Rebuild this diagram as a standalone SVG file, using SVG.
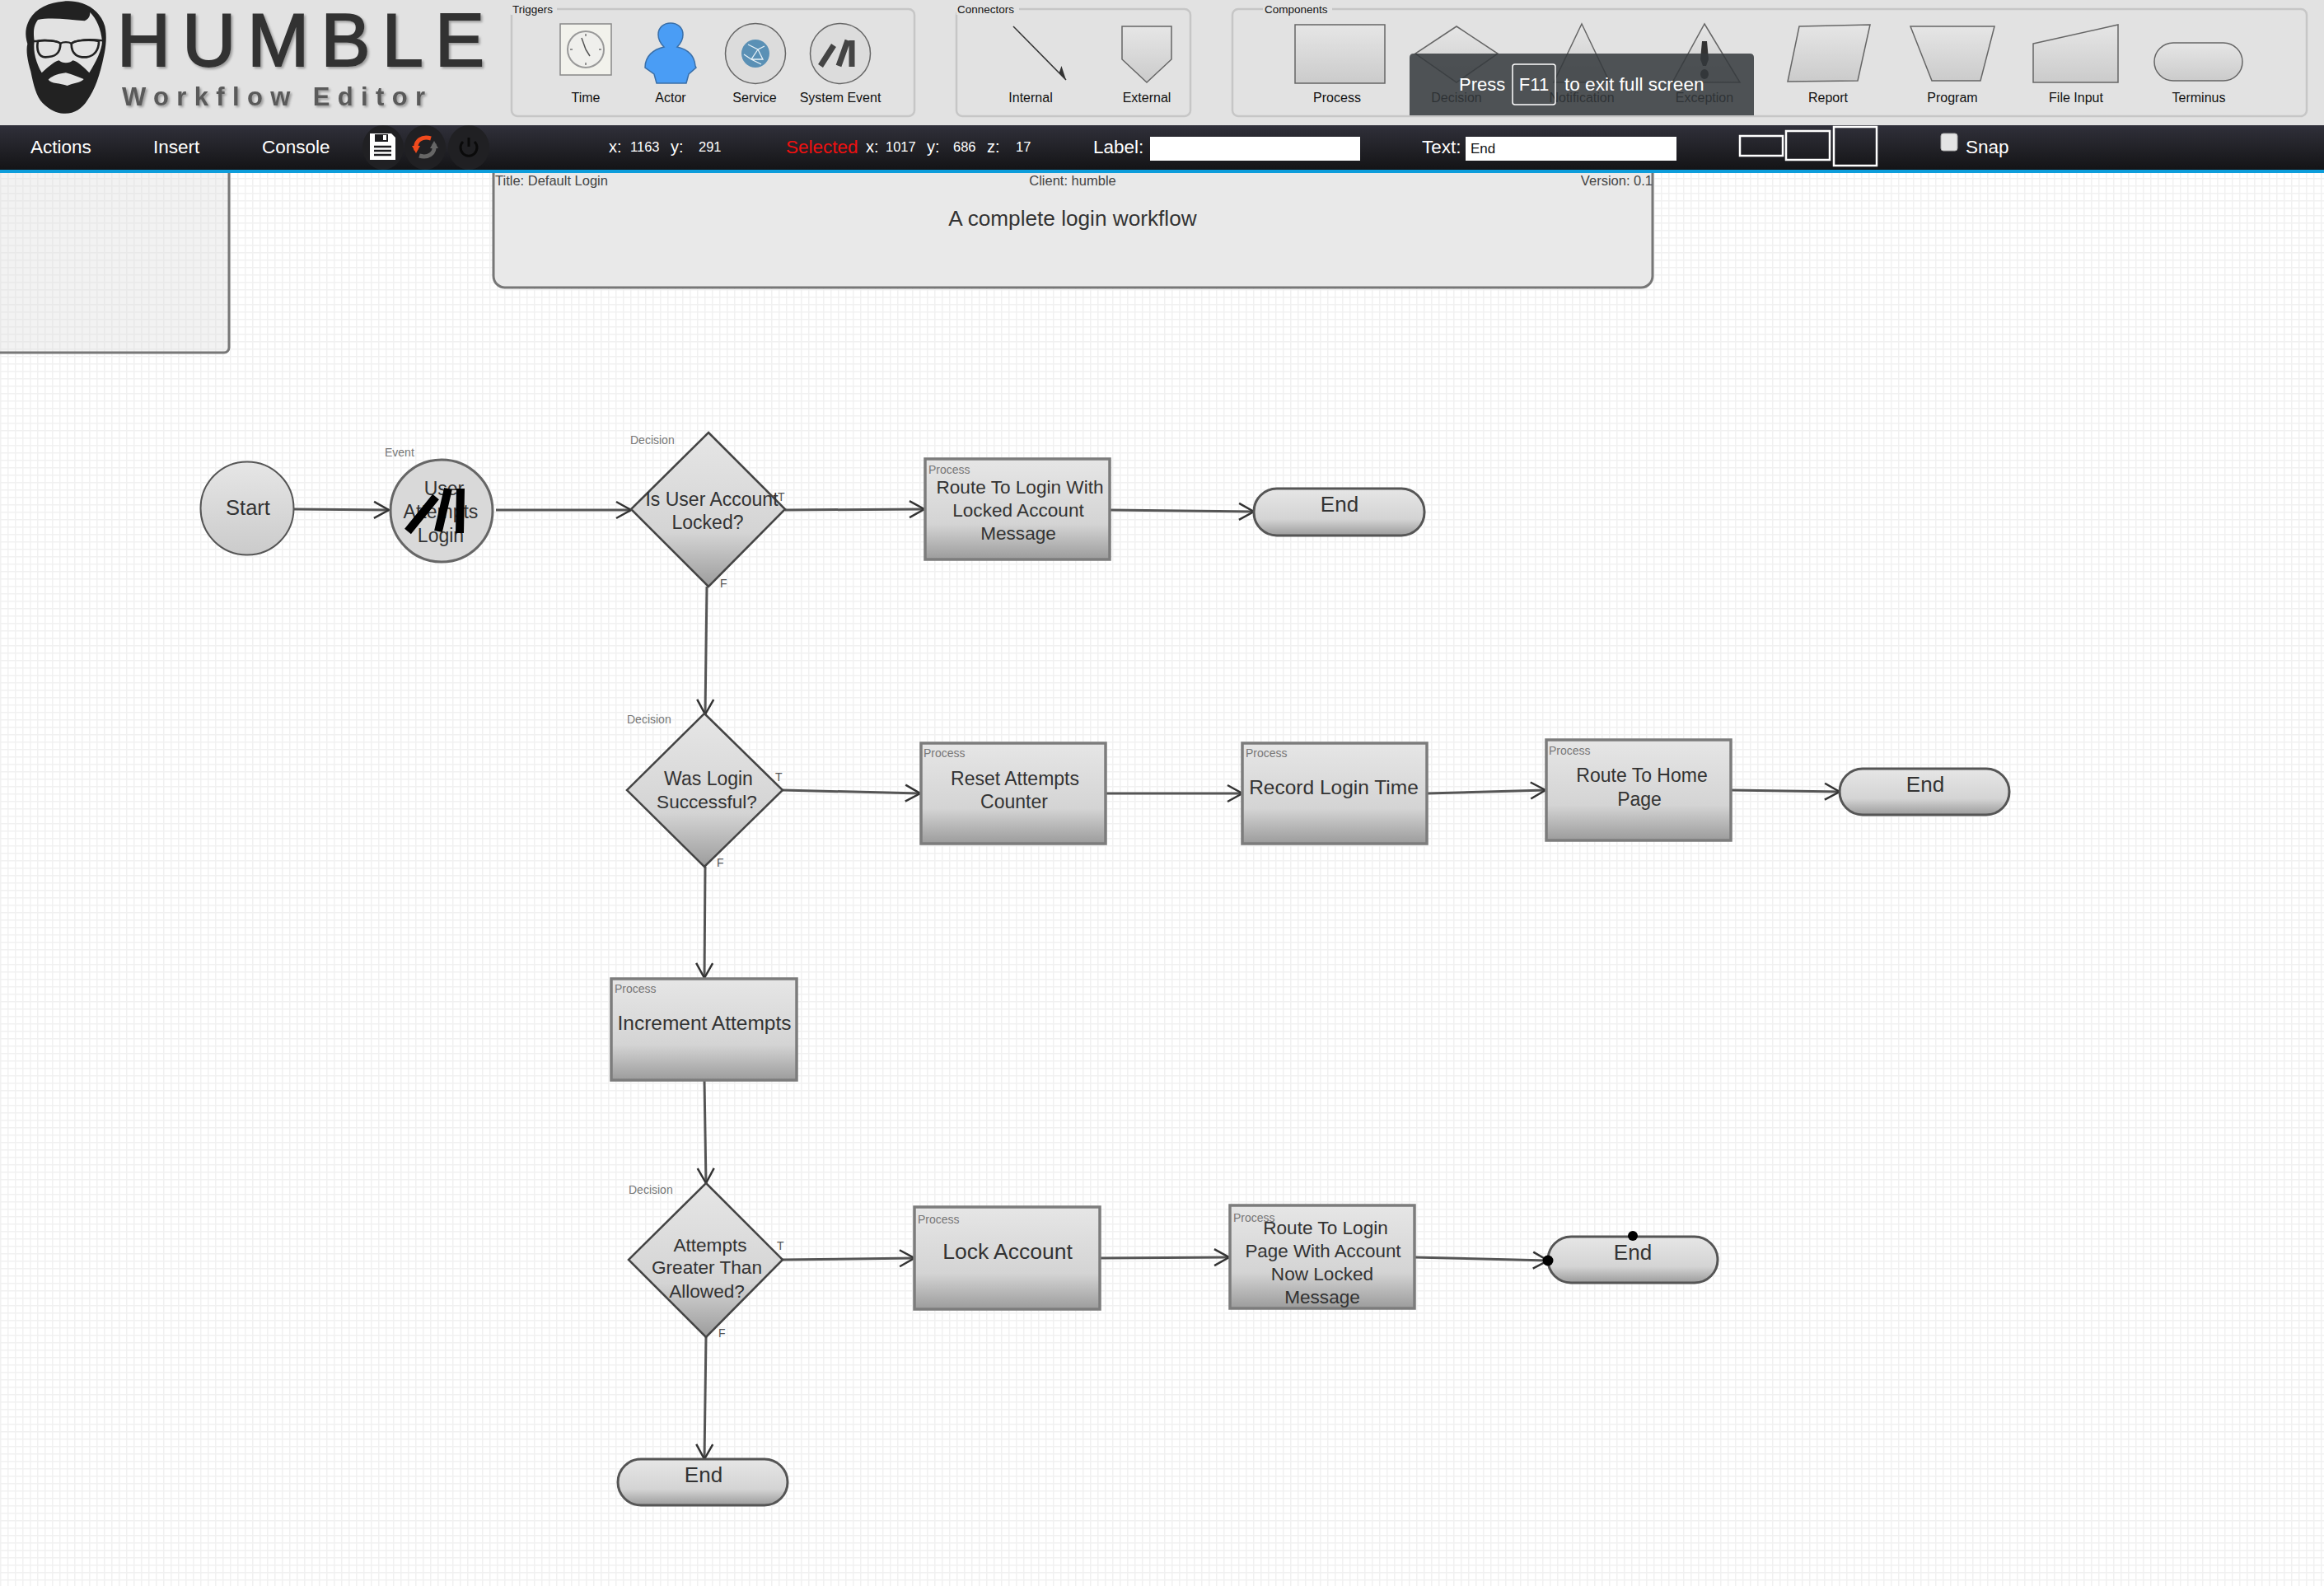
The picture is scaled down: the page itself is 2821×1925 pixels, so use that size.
<svg xmlns="http://www.w3.org/2000/svg" width="2821" height="1925" viewBox="0 0 2821 1925">
<style>
text{font-family:"Liberation Sans",Arial,sans-serif}
.t{font-size:23px;fill:#333;text-anchor:middle;dominant-baseline:central}
.big{font-size:26px}
.wide{font-size:24.500px}
.tag{font-size:14px;fill:#777;dominant-baseline:central}
.tf{font-size:14px;fill:#555;dominant-baseline:central}
.proc{fill:url(#g);stroke:#7c7c7c;stroke-width:3.500}
.dec{fill:url(#g);stroke:#444;stroke-width:2.500}
.term{fill:url(#g);stroke:#555;stroke-width:3}
.conn{stroke:#555;stroke-width:3;fill:none;marker-end:url(#arr)}
.fs{fill:none;stroke:#c6c6c6;stroke-width:2.500}
.pal{font-size:16px;fill:#111;text-anchor:middle;dominant-baseline:central}
.leg{font-size:13.500px;fill:#111;dominant-baseline:central}
.ic{fill:url(#ig);stroke:#666;stroke-width:1.500}
.m{font-size:22.500px;fill:#fff;dominant-baseline:central}
.n{font-size:16.500px;fill:#fff;dominant-baseline:central}
.box{fill:none;stroke:#fff;stroke-width:2.500}
.inp{fill:#fff}
.bar{stroke:#000;stroke-width:10}
.sys{stroke:#444;stroke-width:7}
.meta{font-size:16.500px;fill:#444;dominant-baseline:central}
</style>
<defs>
<pattern id="grid" width="9" height="9" patternUnits="userSpaceOnUse"><rect width="9" height="9" fill="#fff"/><path d="M0 0H9M0 0V9" stroke="#f1f1f1" stroke-width="3"/></pattern>
<pattern id="grid2" width="9" height="9" patternUnits="userSpaceOnUse"><rect width="9" height="9" fill="#f2f2f2"/><path d="M0 0H9M0 0V9" stroke="#e9e9e9" stroke-width="3"/></pattern>
<linearGradient id="g" x1="0" y1="0" x2="0" y2="1"><stop offset="0" stop-color="#e6e6e6"/><stop offset=".65" stop-color="#d4d4d4"/><stop offset="1" stop-color="#9c9c9c"/></linearGradient>
<linearGradient id="ig" x1="0" y1="0" x2="0" y2="1"><stop offset="0" stop-color="#e6e6e6"/><stop offset="1" stop-color="#cbcbcb"/></linearGradient>
<linearGradient id="bar" x1="0" y1="0" x2="0" y2="1"><stop offset="0" stop-color="#30303a"/><stop offset="1" stop-color="#141416"/></linearGradient>
<marker id="arr" markerUnits="userSpaceOnUse" markerWidth="24" markerHeight="26" refX="20" refY="13" orient="auto"><path d="M2 3L20 13L2 23" fill="none" stroke="#333" stroke-width="2.500"/></marker>
<marker id="arr2" markerUnits="userSpaceOnUse" markerWidth="30" markerHeight="26" refX="26" refY="10" orient="auto"><path d="M2 10L26 10L10 2L14 10Z" fill="#333"/></marker>
<filter id="sh" x="-5%" y="-10%" width="110%" height="125%"><feDropShadow dx="2" dy="2" stdDeviation="1.500" flood-color="#999"/></filter>
</defs>

<rect id="canvas" x="0" y="210" width="2821" height="1715" fill="url(#grid)"/>
<rect id="panel-left" x="-10" y="190" width="288" height="238" rx="6" fill="url(#grid2)" stroke="#777" stroke-width="3"/>
<g id="title-block">
<rect x="599" y="190" width="1407" height="159" rx="14" fill="#e9e9e9" stroke="#777" stroke-width="3"/>
<text class="meta" x="601" y="219">Title: Default Login</text>
<text class="meta" x="1302" y="219" text-anchor="middle">Client: humble</text>
<text class="meta" x="2006" y="219" text-anchor="end">Version: 0.1</text>
<text class="t" x="1302" y="265" style="font-size:26.200px">A complete login workflow</text>
</g>

<rect id="header" width="2821" height="152" fill="#e2e2e2"/>
<g id="logo">
<g transform="translate(20,0) scale(.3333)">
<path d="M170 5C120 8 70 30 48 70C32 100 30 125 40 160C34 185 40 220 52 260C62 310 72 350 95 375C120 400 150 415 175 413C210 414 240 395 258 365C285 330 305 270 318 205C326 170 330 130 322 95C310 55 280 25 240 12C215 4 190 2 170 5Z" fill="#222"/>
<path d="M65 150C62 120 60 95 78 72C120 62 190 70 248 76C262 70 268 60 268 45C292 70 308 105 312 150C312 180 290 225 265 265C245 245 225 225 205 220C195 232 165 232 155 220C135 225 115 245 92 265C72 230 60 190 65 150Z" fill="#e2e2e2"/>
<path d="M116 290C128 280 140 270 180 265C205 272 225 280 245 288C235 302 205 302 185 312C160 302 125 305 116 290Z" fill="#e2e2e2"/>
<path d="M45 150H72C100 144 145 146 160 158C170 152 190 152 200 158C225 144 270 142 315 148" fill="none" stroke="#222" stroke-width="7"/>
<path d="M78 150C72 180 80 208 105 208C135 208 160 200 160 160C158 148 95 145 78 150ZM200 160C200 200 225 210 255 208C285 205 300 180 300 150C270 143 205 146 200 160Z" fill="none" stroke="#222" stroke-width="8"/>
</g>
<text x="142" y="80" font-size="90" fill="#333" stroke="#333" stroke-width="2" textLength="446" lengthAdjust="spacing" filter="url(#sh)">HUMBLE</text>
<text x="148" y="128" font-size="31" font-weight="700" fill="#5a5a5a" textLength="368" lengthAdjust="spacing" filter="url(#sh)">Workflow Editor</text>
</g>

<g id="palette-triggers">
<rect class="fs" x="621" y="11" width="489" height="130" rx="7"/>
<rect x="620" y="8" width="56" height="10" fill="#e2e2e2"/>
<text class="leg" x="622" y="11">Triggers</text>
<g id="icon-time">
<rect x="680" y="29" width="62" height="62" fill="#f2f2ec" stroke="#888" stroke-width="1.500"/>
<circle cx="711" cy="60" r="22" fill="#efefec" stroke="#999" stroke-width="2"/>
<path d="M711 60L706 46M711 60L716 68" stroke="#555" stroke-width="1.500" fill="none"/>
<path d="M711 41v3M711 76v3M692 60h3M727 60h3" stroke="#777" stroke-width="1.500"/>
</g>
<text class="pal" x="711" y="118">Time</text>
<g id="icon-actor">
<path d="M799 42C799 33 806 28 814 28C822 28 829 33 829 42C829 50 825 54 822 57C835 60 843 68 844 80L845 82L836 90L833 101H797L794 90L783 82C783 68 793 60 806 57C803 54 799 50 799 42Z" fill="#4a9df5" stroke="#3a6fa8" stroke-width="1.500"/>
</g>
<text class="pal" x="814" y="118">Actor</text>
<g id="icon-service">
<ellipse cx="917" cy="65" rx="36.500" ry="36.500" fill="#dcdcdc" stroke="#666" stroke-width="1.500"/>
<circle cx="917" cy="65" r="17" fill="#5a90b5"/>
<path d="M908 54L920 60L928 56M920 60L912 72L924 78M920 60L926 72L912 72M903 66L912 72" stroke="#e8f2f8" stroke-width="1.300" fill="none"/>
</g>
<text class="pal" x="916" y="118">Service</text>
<g id="icon-system">
<ellipse cx="1020" cy="65" rx="36.500" ry="36.500" fill="#dcdcdc" stroke="#666" stroke-width="1.500"/>
<path class="sys" d="M1012 55L996 80M1029 49L1018 80M1034 49V81"/>
</g>
<text class="pal" x="1020" y="118">System Event</text>
</g>

<g id="palette-connectors">
<rect class="fs" x="1161" y="11" width="284" height="130" rx="7"/>
<rect x="1161" y="8" width="76" height="10" fill="#e2e2e2"/>
<text class="leg" x="1162" y="11">Connectors</text>
<path d="M1230 32L1294 97" stroke="#333" stroke-width="1.500" marker-end="url(#arr2)"/>
<text class="pal" x="1251" y="118">Internal</text>
<path class="ic" d="M1362 32H1422V72L1392 100L1362 72Z"/>
<text class="pal" x="1392" y="118">External</text>
</g>

<g id="palette-components">
<rect class="fs" x="1496" y="11" width="1304" height="130" rx="7"/>
<rect x="1533" y="8" width="84" height="10" fill="#e2e2e2"/>
<text class="leg" x="1535" y="11">Components</text>
<rect class="ic" x="1572" y="30" width="109" height="71"/>
<text class="pal" x="1623" y="118">Process</text>
<path class="ic" d="M1768 32L1818 65L1768 100L1718 65Z"/>
<text class="pal" x="1768" y="118">Decision</text>
<path class="ic" d="M1920 29L1954 100H1886Z"/>
<text class="pal" x="1920" y="118">Notification</text>
<path class="ic" d="M2069 29L2112 100H2030Z"/>
<path d="M2066 50H2072L2074 72L2071 80H2067L2064 72Z" fill="#333"/><ellipse cx="2069" cy="90" rx="5" ry="6" fill="#333"/>
<text class="pal" x="2069" y="118">Exception</text>
<path class="ic" d="M2184 32L2270 30L2255 98L2170 99Z"/>
<text class="pal" x="2219" y="118">Report</text>
<path class="ic" d="M2319 32H2421L2404 98H2345Z"/>
<text class="pal" x="2370" y="118">Program</text>
<path class="ic" d="M2468 53L2571 30V100H2468Z"/>
<text class="pal" x="2520" y="118">File Input</text>
<rect class="ic" x="2615" y="52" width="107" height="46" rx="23"/>
<text class="pal" x="2669" y="118">Terminus</text>
</g>

<g id="fullscreen-toast">
<path d="M1716 65H2124Q2129 65 2129 70V140H1711V70Q1711 65 1716 65Z" fill="#34383c" fill-opacity=".85"/>
<text x="1771" y="102" font-size="22" fill="#fff" dominant-baseline="central">Press</text>
<rect x="1836" y="78" width="52" height="49" rx="3" fill="none" stroke="#fff" stroke-width="1.500"/>
<text x="1862" y="102" font-size="22" fill="#fff" text-anchor="middle" dominant-baseline="central">F11</text>
<text x="1899" y="102" font-size="22.600" fill="#fff" dominant-baseline="central">to exit full screen</text>
</g>

<g id="toolbar">
<rect y="152" width="2821" height="54" fill="url(#bar)"/>
<rect y="206" width="2821" height="4" fill="#0d9ddb"/>
<text class="m" x="37" y="178">Actions</text>
<text class="m" x="186" y="178">Insert</text>
<text class="m" x="318" y="178">Console</text>
<ellipse cx="465" cy="179" rx="25" ry="27" fill="#202023"/>
<ellipse cx="516" cy="179" rx="25" ry="27" fill="#202023"/>
<ellipse cx="569" cy="179" rx="25" ry="27" fill="#202023"/>
<g id="icon-save"><path d="M449 162H475L480 167V194H449Z" fill="#fff"/><rect x="455" y="163" width="16" height="9" fill="#1d1d20"/><rect x="465" y="164" width="4" height="6" fill="#fff"/><path d="M454 178H475M454 183H475M454 188H475" stroke="#1d1d20" stroke-width="2.500"/></g>
<g id="icon-refresh" fill="none" stroke-width="5"><path d="M505 182C503 170 513 165 523 168" stroke="#f04a1d"/><path d="M527 175C529 187 519 192 509 189" stroke="#666"/><path d="M500 177L510 177L505 186Z" fill="#f04a1d" stroke="none"/><path d="M522 180L532 180L527 171Z" fill="#666" stroke="none"/></g>
<g id="icon-power" fill="none" stroke="#0a0a0a" stroke-width="3"><path d="M562 172A10 10 0 1 0 576 172"/><path d="M569 167V178"/></g>
<text class="n" x="739" y="178" style="font-size:20px">x:</text><text class="n" x="765" y="178">1163</text>
<text class="n" x="814" y="178" style="font-size:20px">y:</text><text class="n" x="848" y="178">291</text>
<text class="m" x="954" y="178" style="fill:#f01010">Selected</text>
<text class="n" x="1051" y="178" style="font-size:20px">x:</text><text class="n" x="1075" y="178">1017</text>
<text class="n" x="1125" y="178" style="font-size:20px">y:</text><text class="n" x="1157" y="178">686</text>
<text class="n" x="1198" y="178" style="font-size:20px">z:</text><text class="n" x="1233" y="178">17</text>
<text class="m" x="1327" y="178">Label:</text>
<rect class="inp" x="1396" y="166" width="255" height="29"/>
<text class="m" x="1726" y="178">Text:</text>
<rect class="inp" x="1779" y="166" width="256" height="29"/>
<text x="1785" y="180" font-size="17" fill="#111" dominant-baseline="central">End</text>
<rect class="box" x="2112" y="165" width="52" height="24"/>
<rect class="box" x="2168" y="159" width="53" height="35"/>
<rect class="box" x="2226" y="154" width="52" height="47"/>
<rect x="2356" y="162" width="20" height="21" rx="3" fill="#e4e4e4" stroke="#aaa" stroke-width="1"/>
<text class="m" x="2386" y="178">Snap</text>
</g>

<g id="connectors">
<path class="conn" d="M357 618L472 619"/>
<path class="conn" d="M602 619L766 619"/>
<path class="conn" d="M953 619L1122 618"/>
<path class="conn" d="M1348 619L1522 621"/>
<path class="conn" d="M858 712L856 867"/>
<path class="conn" d="M950 959L1117 963"/>
<path class="conn" d="M1342 963L1508 963"/>
<path class="conn" d="M1732 963L1876 959"/>
<path class="conn" d="M2101 959L2233 961"/>
<path class="conn" d="M856 1052L855 1187"/>
<path class="conn" d="M855 1312L857 1436"/>
<path class="conn" d="M950 1529L1110 1527"/>
<path class="conn" d="M1336 1527L1492 1526"/>
<path class="conn" d="M1717 1526L1879 1530"/>
<path class="conn" d="M857 1623L855 1771"/>
</g>

<g id="node-start">
<circle cx="300" cy="617" r="56.500" fill="url(#ig)" stroke="#555" stroke-width="2"/>
<text class="t" x="301" y="616" style="font-size:25.500px">Start</text>
</g>
<g id="node-event">
<text class="tag" x="467" y="549">Event</text>
<circle cx="536" cy="620" r="62" fill="#d9d9d9" stroke="#666" stroke-width="3"/>
<text class="t" x="539" y="593">User</text>
<text class="t" x="535" y="621">Attempts</text>
<text class="t" x="535" y="650">Login</text>
<path class="bar" d="M529 603L495 645M544 593L532 645M559 593L558 647" fill="none"/>
</g>
<g id="node-d1">
<text class="tag" x="765" y="534">Decision</text>
<path class="dec" d="M860 525L953 618L860 712L766 618Z"/>
<text class="t" x="864" y="606">Is User Account</text>
<text class="t" x="859" y="634">Locked?</text>
<text class="tf" x="944" y="603">T</text>
<text class="tf" x="874" y="708">F</text>
</g>
<g id="node-p1">
<rect class="proc" x="1123" y="557" width="224" height="122"/>
<text class="tag" x="1127" y="570">Process</text>
<text class="t" x="1238" y="591" style="font-size:22.600px">Route To Login With</text>
<text class="t" x="1236" y="619" style="font-size:22.600px">Locked Account</text>
<text class="t" x="1236" y="647" style="font-size:22.600px">Message</text>
</g>
<g id="node-end1">
<rect class="term" x="1522" y="593" width="207" height="57" rx="28"/>
<text class="t big" x="1626" y="612">End</text>
</g>
<g id="node-d2">
<text class="tag" x="761" y="873">Decision</text>
<path class="dec" d="M855 866L950 959L855 1052L761 959Z"/>
<text class="t" x="860" y="945">Was Login</text>
<text class="t" x="858" y="973" style="font-size:22.600px">Successful?</text>
<text class="tf" x="941" y="943">T</text>
<text class="tf" x="870" y="1047">F</text>
</g>
<g id="node-p2">
<rect class="proc" x="1118" y="902" width="224" height="122"/>
<text class="tag" x="1121" y="914">Process</text>
<text class="t" x="1232" y="945">Reset Attempts</text>
<text class="t" x="1231" y="973">Counter</text>
</g>
<g id="node-p3">
<rect class="proc" x="1508" y="902" width="224" height="122"/>
<text class="tag" x="1512" y="914">Process</text>
<text class="t wide" x="1619" y="955">Record Login Time</text>
</g>
<g id="node-p4">
<rect class="proc" x="1877" y="898" width="224" height="122"/>
<text class="tag" x="1880" y="911">Process</text>
<text class="t" x="1993" y="941">Route To Home</text>
<text class="t" x="1990" y="970">Page</text>
</g>
<g id="node-end2">
<rect class="term" x="2233" y="933" width="206" height="56" rx="28"/>
<text class="t big" x="2337" y="952">End</text>
</g>
<g id="node-p5">
<rect class="proc" x="742" y="1188" width="225" height="123"/>
<text class="tag" x="746" y="1200">Process</text>
<text class="t wide" x="855" y="1241">Increment Attempts</text>
</g>
<g id="node-d3">
<text class="tag" x="763" y="1444">Decision</text>
<path class="dec" d="M857 1436L950 1529L857 1623L763 1529Z"/>
<text class="t" x="862" y="1511" style="font-size:22.600px">Attempts</text>
<text class="t" x="858" y="1538" style="font-size:22.600px">Greater Than</text>
<text class="t" x="858" y="1567" style="font-size:22.600px">Allowed?</text>
<text class="tf" x="943" y="1512">T</text>
<text class="tf" x="872" y="1618">F</text>
</g>
<g id="node-p6">
<rect class="proc" x="1110" y="1465" width="225" height="124"/>
<text class="tag" x="1114" y="1480">Process</text>
<text class="t big" x="1223" y="1519" style="font-size:26.500px">Lock Account</text>
</g>
<g id="node-p7">
<rect class="proc" x="1493" y="1463" width="224" height="125"/>
<text class="tag" x="1497" y="1478">Process</text>
<text class="t" x="1609" y="1490" style="font-size:22.600px">Route To Login</text>
<text class="t" x="1606" y="1518" style="font-size:22.400px">Page With Account</text>
<text class="t" x="1605" y="1546" style="font-size:22.600px">Now Locked</text>
<text class="t" x="1605" y="1574" style="font-size:22.600px">Message</text>
</g>
<g id="node-end3">
<rect class="term" x="1879" y="1501" width="206" height="56" rx="28"/>
<text class="t big" x="1982" y="1520">End</text>
<circle cx="1982" cy="1500" r="6" fill="#000"/>
<circle cx="1879" cy="1530" r="6.500" fill="#000"/>
</g>
<g id="node-end4">
<rect class="term" x="750" y="1771" width="206" height="56" rx="28"/>
<text class="t big" x="854" y="1790">End</text>
</g>
</svg>
